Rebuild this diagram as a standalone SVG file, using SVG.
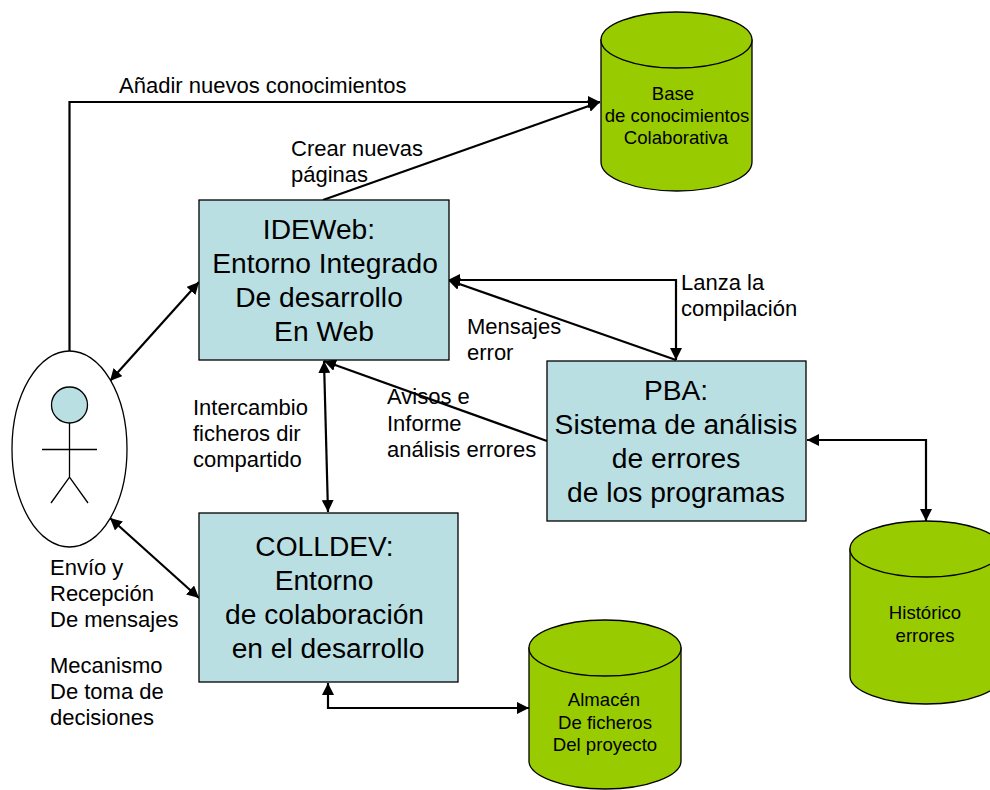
<svg xmlns="http://www.w3.org/2000/svg" width="990" height="790" viewBox="0 0 990 790">
<style>
text{font-family:"Liberation Sans",Arial,sans-serif;fill:#000}
.l{font-size:22px}
.n{font-size:28.2px;text-anchor:middle}
.c{font-size:18.6px;text-anchor:middle}
.box{fill:#b9dfe3;stroke:#000;stroke-width:1.3}
.cyl{fill:#99cc00;stroke:#000;stroke-width:1.3}
.w{fill:none;stroke:#000;stroke-width:2.2;marker-end:url(#a)}
.b{fill:none;stroke:#000;stroke-width:2.2;marker-start:url(#s);marker-end:url(#a)}
.p{fill:none;stroke:#000;stroke-width:1.3}
</style>
<defs>
<marker id="a" viewBox="0 0 10 10" refX="10" refY="5" markerWidth="12" markerHeight="12" markerUnits="userSpaceOnUse" orient="auto"><path d="M0 0L10 5L0 10Z" fill="#000"/></marker>
<marker id="s" viewBox="0 0 10 10" refX="0" refY="5" markerWidth="12" markerHeight="12" markerUnits="userSpaceOnUse" orient="auto"><path d="M10 0L0 5L10 10Z" fill="#000"/></marker>
</defs>
<rect width="990" height="790" fill="#fff"/>
<g id="connectors">
<path class="w" d="M69.500 351V102H600"/>
<path class="w" d="M323 200L600 102"/>
<path class="b" d="M110 381L199 282"/>
<path class="b" d="M110 518L199 598"/>
<path class="b" d="M324 361L328 512"/>
<path class="b" d="M448 280H676V360"/>
<path class="w" d="M676 360L448 280"/>
<path class="w" d="M547 441L324 361"/>
<path class="b" d="M807 440H926V521"/>
<path class="b" d="M328 683V708H529"/>
</g>
<g id="ideweb"><rect class="box" x="199" y="200" width="250" height="160"/>
<text class="n" x="319" y="239">IDEWeb:</text><text class="n" x="325" y="273">Entorno Integrado</text><text class="n" x="319" y="307">De desarrollo</text><text class="n" x="324" y="341">En Web</text></g>
<g id="pba"><rect class="box" x="547" y="361" width="259" height="160"/>
<text class="n" x="676" y="400">PBA:</text><text class="n" x="676" y="434">Sistema de análisis</text><text class="n" x="676" y="468">de errores</text><text class="n" x="676" y="502">de los programas</text></g>
<g id="colldev"><rect class="box" x="199" y="513" width="259" height="169"/>
<text class="n" x="324.500" y="556">COLLDEV:</text><text class="n" x="324" y="590">Entorno</text><text class="n" x="324.500" y="624">de colaboración</text><text class="n" x="328" y="658">en el desarrollo</text></g>
<g id="base"><path class="cyl" d="M601 40V162C601 178 635 191 677 191S752 178 752 162V40Z"/><ellipse class="cyl" cx="676.500" cy="40" rx="75.500" ry="28"/>
<text class="c" x="673" y="100">Base</text><text class="c" x="677" y="122">de conocimientos</text><text class="c" x="676" y="144">Colaborativa</text></g>
<g id="historico"><path class="cyl" d="M850 549V676C850 691 884 704 926 704S1002 691 1002 676V549Z"/><ellipse class="cyl" cx="926" cy="549" rx="76" ry="28"/>
<text class="c" x="925" y="619">Histórico</text><text class="c" x="925" y="642">errores</text></g>
<g id="almacen"><path class="cyl" d="M529 648V761C529 776 563 789 605 789S681 776 681 761V648Z"/><ellipse class="cyl" cx="605" cy="648" rx="76" ry="28"/>
<text class="c" x="604" y="706">Almacén</text><text class="c" x="605" y="729">De ficheros</text><text class="c" x="605" y="751">Del proyecto</text></g>
<g id="actor"><ellipse cx="69.500" cy="449" rx="57.500" ry="98" fill="#fff" stroke="#000" stroke-width="1.300"/>
<circle cx="69.500" cy="405" r="18" fill="#b9dfe3" stroke="#000" stroke-width="1.300"/>
<path class="p" d="M69.500 423V477M42 449.500H97M51 503L69.500 477L88 503"/></g>
<g id="labels">
<text class="l" x="119" y="93">Añadir nuevos conocimientos</text>
<text class="l" x="291" y="156">Crear nuevas</text><text class="l" x="291" y="182">páginas</text>
<text class="l" x="681" y="290">Lanza la</text><text class="l" x="681" y="316">compilación</text>
<text class="l" x="467" y="334">Mensajes</text><text class="l" x="467" y="360">error</text>
<text class="l" x="387" y="404">Avisos e</text><text class="l" x="387" y="431">Informe</text><text class="l" x="387" y="457">análisis errores</text>
<text class="l" x="193" y="415">Intercambio</text><text class="l" x="193" y="441">ficheros dir</text><text class="l" x="193" y="467">compartido</text>
<text class="l" x="50" y="575">Envío y</text><text class="l" x="50" y="601">Recepción</text><text class="l" x="50" y="627">De mensajes</text>
<text class="l" x="50" y="673">Mecanismo</text><text class="l" x="50" y="699">De toma de</text><text class="l" x="50" y="725">decisiones</text>
</g>
</svg>
